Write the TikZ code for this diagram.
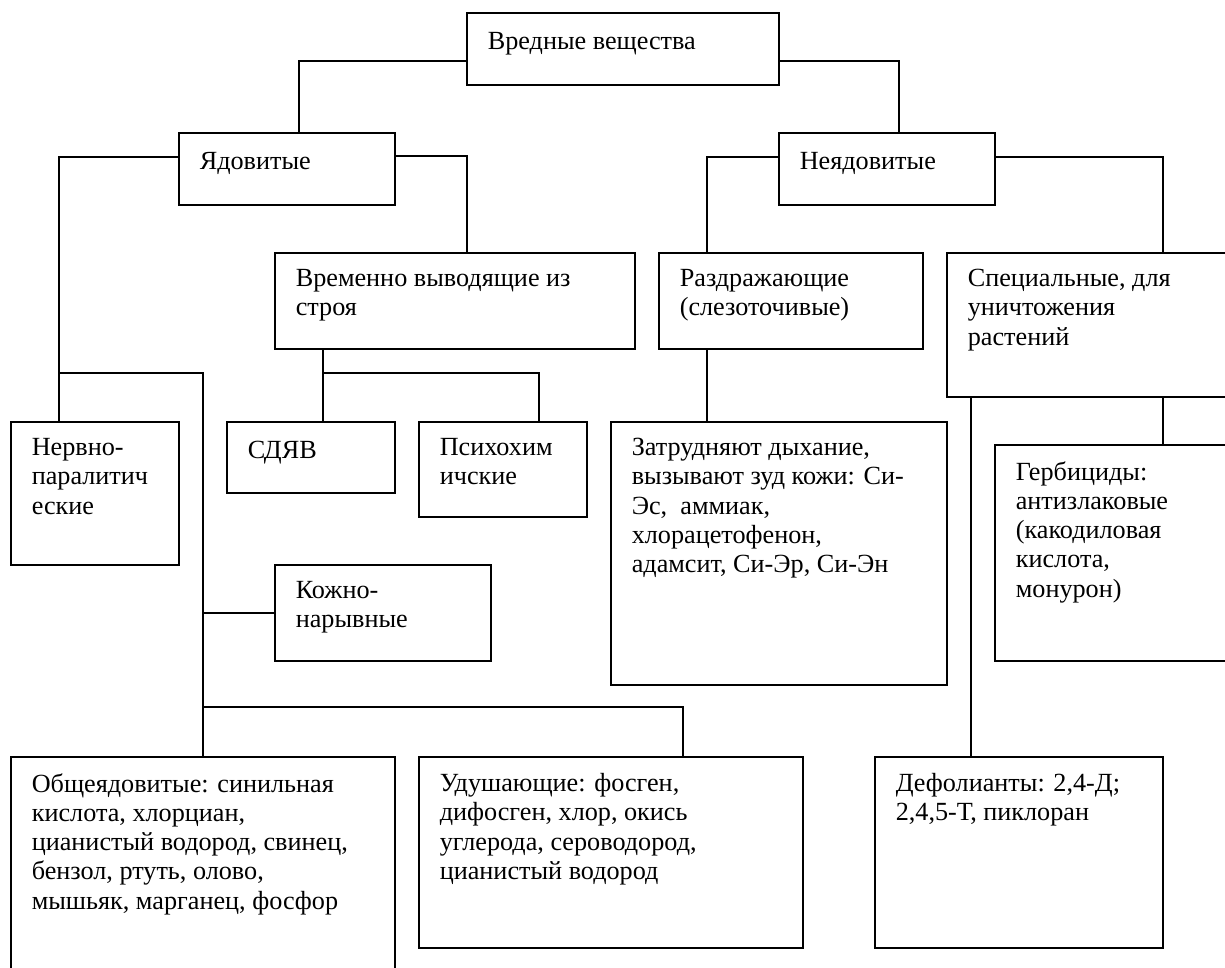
\documentclass[tikz,border=0pt]{standalone}
\usepackage{fontspec}
\setmainfont{Liberation Serif}
\begin{document}
\begin{tikzpicture}[x=1pt, y=-1pt, line width=1.6pt,
  box/.style={draw, anchor=north west, inner sep=0pt, outer sep=0pt},
  txt/.style={anchor=north west, inner xsep=20pt, inner ysep=15.5pt, align=left,
    font=\fontsize{26.2}{29.3}\selectfont, execute at begin node=\strut}]
\clip (0,0) rectangle (1225,968);

\node[box, minimum width=312, minimum height=72, label={[txt]north west:Вредные вещества}] (top) at (467,13) {};
\node[box, minimum width=216, minimum height=72, label={[txt]north west:Ядовитые}] (yad) at (179,133) {};
\node[box, minimum width=216, minimum height=72, label={[txt]north west:Неядовитые}] (neyad) at (779,133) {};
\node[box, minimum width=360, minimum height=96, label={[txt]north west:Временно выводящие из\\строя}] (vrem) at (275,253) {};
\node[box, minimum width=264, minimum height=96, label={[txt]north west:Раздражающие\\(слезоточивые)}] (razd) at (659,253) {};
\node[box, minimum width=293, minimum height=144, label={[txt]north west:Специальные, для\\уничтожения\\растений}] (spec) at (947,253) {};
\node[box, minimum width=168, minimum height=143, label={[txt]north west:Нервно-\\паралитич\\еские}] (nerv) at (11,422) {};
\node[box, minimum width=168, minimum height=71, label={[txt]north west:СДЯВ}] (sdyav) at (227,422) {};
\node[box, minimum width=168, minimum height=95, label={[txt]north west:Психохим\\ичские}] (psikh) at (419,422) {};
\node[box, minimum width=336, minimum height=263, label={[txt]north west:Затрудняют дыхание,\\вызывают зуд кожи: Си-\\Эс,\ \ аммиак,\\хлорацетофенон,\\адамсит, Си-Эр, Си-Эн}] (zatr) at (611,422) {};
\node[box, minimum width=245, minimum height=216, label={[txt]north west:Гербициды:\\антизлаковые\\(какодиловая\\кислота,\\монурон)}] (gerb) at (995,445) {};
\node[box, minimum width=216, minimum height=96, label={[txt]north west:Кожно-\\нарывные}] (kozh) at (275,565) {};
\node[box, minimum width=384, minimum height=233, label={[txt]north west:Общеядовитые: синильная\\кислота, хлорциан,\\цианистый водород, свинец,\\бензол, ртуть, олово,\\мышьяк, марганец, фосфор}] (obsh) at (11,757) {};
\node[box, minimum width=384, minimum height=191, label={[txt]north west:Удушающие: фосген,\\дифосген, хлор, окись\\углерода, сероводород,\\цианистый водород}] (udush) at (419,757) {};
\node[box, minimum width=288, minimum height=191, label={[txt]north west:Дефолианты: 2,4-Д;\\2,4,5-Т, пиклоран}] (defol) at (875,757) {};

\coordinate (j1) at (59,373);
\coordinate (j2) at (203,707);
\coordinate (j3) at (323,373);

\draw (top.west |- 0,61) -| (yad.north -| 299,0);
\draw (top.east |- 0,61) -| (neyad.north -| 899,0);
\draw (yad.west |- 0,157) -| (nerv.north -| 59,0);
\draw (yad.east |- 0,156) -| (vrem.north -| 467,0);
\draw (j1) -| (obsh.north -| 203,0);
\draw (kozh.west) -- (kozh.west -| 203,0);
\draw (j2) -| (udush.north -| 683,0);
\draw (vrem.south -| 323,0) -- (sdyav.north -| 323,0);
\draw (j3) -| (psikh.north -| 539,0);
\draw (neyad.west |- 0,157) -| (razd.north -| 707,0);
\draw (neyad.east |- 0,157) -| (spec.north -| 1163,0);
\draw (razd.south -| 707,0) -- (zatr.north -| 707,0);
\draw (spec.south -| 971,0) -- (defol.north -| 971,0);
\draw (spec.south -| 1163,0) -- (gerb.north -| 1163,0);
\end{tikzpicture}
\end{document}
